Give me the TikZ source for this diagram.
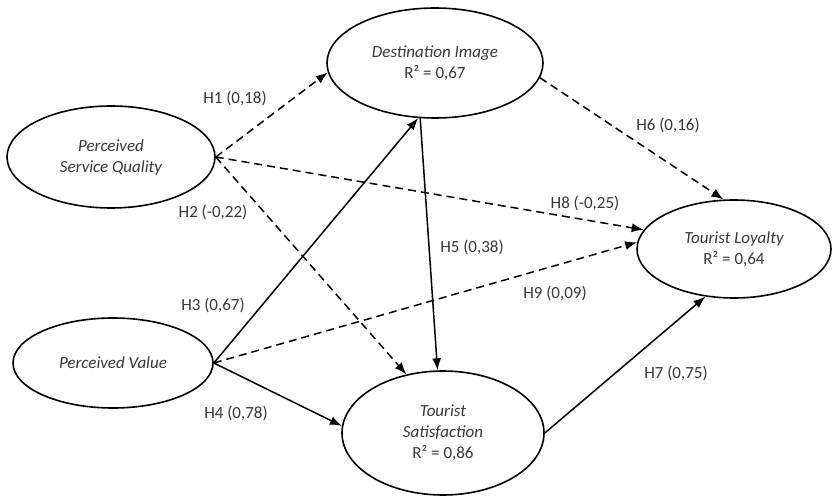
\documentclass[tikz,border=0pt]{standalone}
\usepackage{fontspec}
\setmainfont{Carlito}
\usetikzlibrary{shapes.geometric,arrows.meta}
\begin{document}
\begin{tikzpicture}[x=1pt,y=-1pt,
  construct/.style={ellipse,draw=black,line width=1.6pt,inner sep=0pt,align=center,
    font=\fontsize{17}{21}\selectfont\itshape,text=black!78},
  lbl/.style={font=\fontsize{17}{21}\selectfont,text=black!78,inner sep=0pt},
  conn/.style={line width=1.5pt,-{Latex[length=12pt,width=9pt]}},
  dconn/.style={conn,dash pattern=on 8pt off 5pt}]
\useasboundingbox (0,0) rectangle (833,497);
\node[construct,minimum width=216pt,minimum height=110pt] (di) at (435,63) {Destination Image\\\upshape R² = 0,67};
\node[construct,minimum width=208pt,minimum height=102pt] (psq) at (111,157) {Perceived\\Service Quality};
\node[construct,minimum width=200pt,minimum height=90pt] (pv) at (113,363) {Perceived Value};
\node[construct,minimum width=202pt,minimum height=124pt] (ts) at (443,433) {Tourist\\Satisfaction\\\upshape R² = 0,86};
\node[construct,minimum width=194pt,minimum height=98pt] (tl) at (734,249) {Tourist Loyalty\\\upshape R² = 0,64};

\draw[dconn] (psq.east) -- (di.185);
\draw[dconn] (psq.east) -- (ts.122);
\draw[dconn] (psq.east) -- (tl.168);
\draw[conn] (pv.east) -- (di.253);
\draw[dconn] (pv.east) -- (tl.176);
\draw[conn] (pv.east) -- (ts.176);
\draw[conn] (di.255) -- (ts.95);
\draw[dconn] (di.352) -- (tl.102);
\draw[conn] (ts.east) -- (tl.239);

\node[lbl] (l1) at (235,98) {H1 (0,18)};
\node[lbl] (l2) at (213,212) {H2 (-0,22)};
\node[lbl] (l3) at (213,305) {H3 (0,67)};
\node[lbl] (l4) at (236,413) {H4 (0,78)};
\node[lbl] (l5) at (472,247) {H5 (0,38)};
\node[lbl] (l6) at (668,125) {H6 (0,16)};
\node[lbl] (l7) at (676,373) {H7 (0,75)};
\node[lbl] (l8) at (585,203) {H8 (-0,25)};
\node[lbl] (l9) at (555,293) {H9 (0,09)};
\end{tikzpicture}
\end{document}
